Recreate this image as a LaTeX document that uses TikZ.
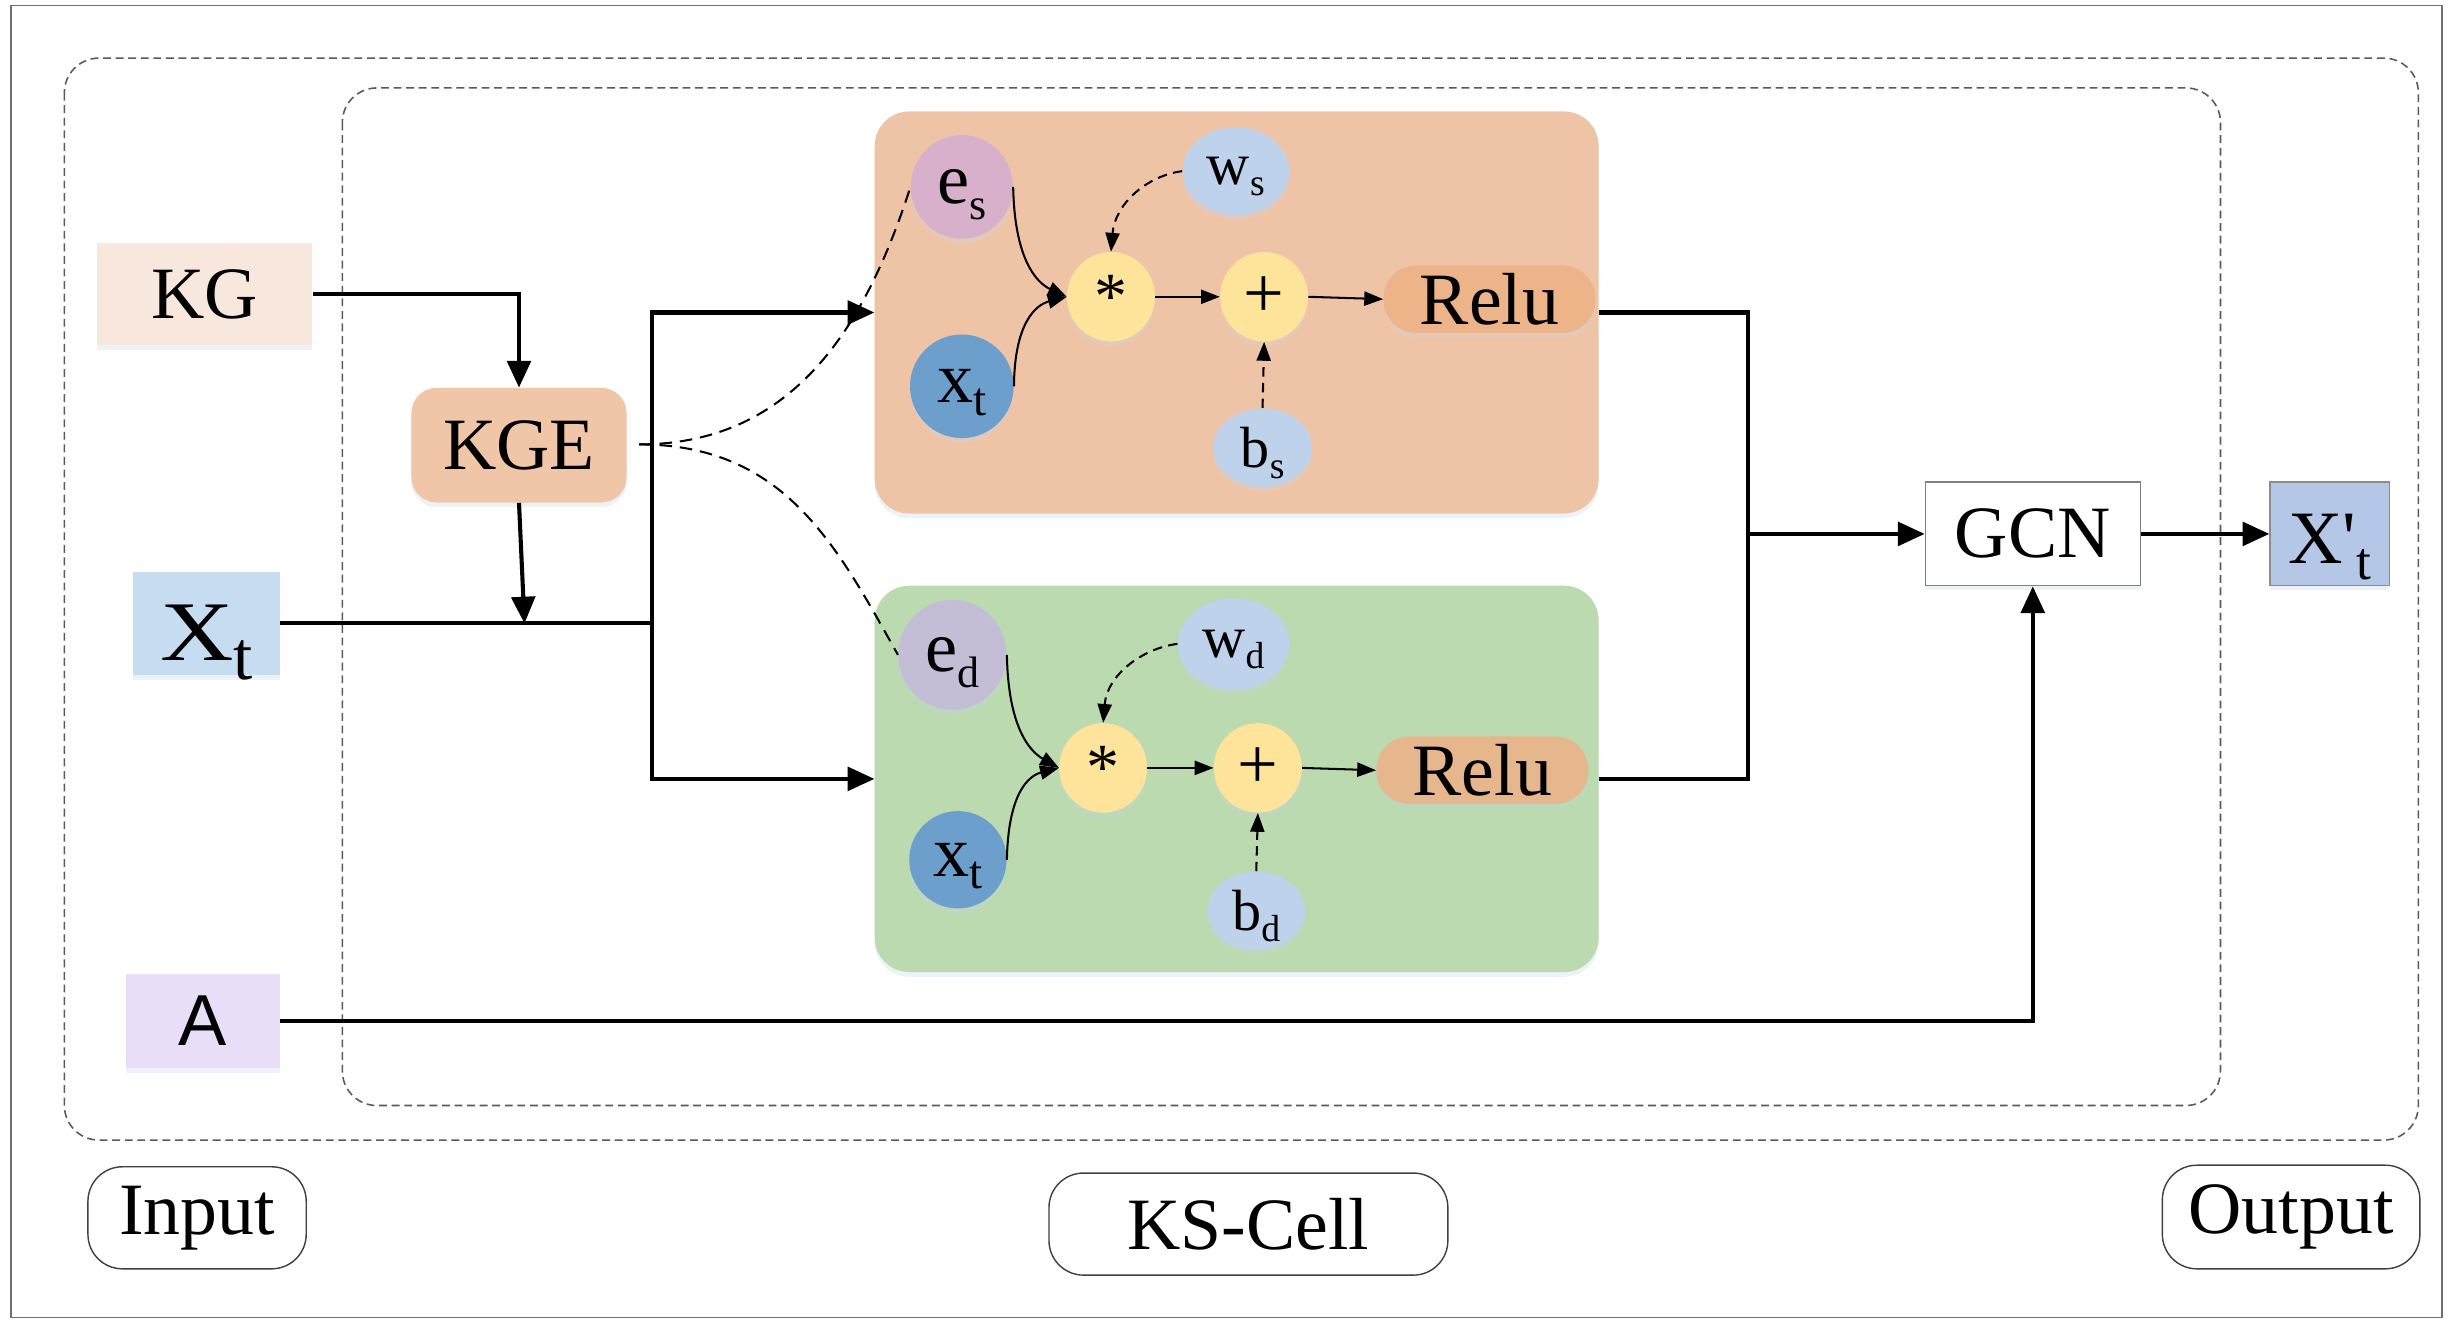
\documentclass[tikz,border=0pt]{standalone}
\usepackage{fontspec}
\setmainfont{Liberation Serif}[Ligatures=TeXOff]
\newfontfamily\sansA{Liberation Sans}
\usepackage{graphicx}
\usetikzlibrary{shapes.geometric,arrows.meta,shadows}
\newcommand\fs[1]{\fontsize{#1}{#1}\selectfont}
\newcommand\lsub[3]{\smash{\raisebox{-#1pt}{\fs{#2}#3}}}
\definecolor{kgc}{HTML}{F7E7DD}
\definecolor{kgec}{HTML}{F0C5A8}
\definecolor{xtc}{HTML}{C6DCF0}
\definecolor{ac}{HTML}{E8DEF8}
\definecolor{xpc}{HTML}{B4C7E7}
\definecolor{topc}{HTML}{EFC4A6}
\definecolor{botc}{HTML}{BBDAAF}
\definecolor{esc}{HTML}{D8B0CC}
\definecolor{edc}{HTML}{C3BED6}
\definecolor{xcc}{HTML}{6D9FCD}
\definecolor{wbc}{HTML}{BED2EB}
\definecolor{yc}{HTML}{FEE49B}
\definecolor{reluc}{HTML}{EDB48A}
\definecolor{relud}{HTML}{E6B78D}
\definecolor{shc}{HTML}{C5D5EA}
\definecolor{framec}{HTML}{707070}
\definecolor{dashc}{HTML}{5A5A5A}
\begin{document}
\begin{tikzpicture}[x=1pt,y=-1pt,
  shad/.style={drop shadow={shadow xshift=0pt,shadow yshift=-3pt,opacity=0.3,fill=shc}},
  sq/.style={rectangle,inner sep=0pt,font=\fs{47},shad},
  circ/.style={ellipse,inner sep=0pt,shad},
  relubox/.style={rectangle,rounded corners=21pt,minimum width=135,minimum height=43,inner sep=0pt,font=\fs{47},shad},
  lab/.style={rectangle,rounded corners=22pt,draw=black!75,line width=0.9pt,fill=white,inner sep=0pt,font=\fs{47}},
  panel/.style={rectangle,rounded corners=22pt,inner sep=0pt,shad},
  thk/.style={line width=2.6pt},
  arr/.style={line width=2.6pt,-{Triangle[length=17pt,width=15pt]}},
  tarr/.style={line width=1.3pt,-{Triangle[length=12pt,width=9pt]}},
  darr/.style={line width=1.3pt,dash pattern=on 6pt off 4pt,-{Triangle[length=12pt,width=9pt]}},
  dcurve/.style={line width=1.3pt,dash pattern=on 8pt off 5pt},
  dframe/.style={line width=1pt,draw=dashc,dash pattern=on 5pt off 3pt,rounded corners=22pt}
]
\useasboundingbox (0,0) rectangle (1564,854);
\fill[white] (0,0) rectangle (1564,854);
% outer frame and dashed frames
\draw[framec,line width=1.2pt] (7,3.5) rectangle (1555,839);
\draw[dframe] (41,37) rectangle (1540,726);
\draw[dframe] (218,56) rectangle (1414,704);

% panels
\node[panel,fill=topc,minimum width=461,minimum height=256] (top) at (787.5,199) {};
\node[panel,fill=botc,minimum width=461,minimum height=246] (bot) at (787.5,496) {};

% left inputs
\node[sq,fill=kgc,minimum width=137,minimum height=65] (KG) at (130.5,187.5) {KG};
\node[sq,fill=kgec,rounded corners=16pt,minimum width=137,minimum height=73] (KGE) at (330.5,283.5) {KGE};
\node[sq,fill=xtc,minimum width=93,minimum height=66,text height=47.5pt,text depth=0pt] (Xt) at (131.5,397) {\fs{54}\scalebox{1.2}[1]{X}\lsub{12}{44}{t}};
\node[sq,fill=ac,minimum width=98,minimum height=60,font=\sansA\fs{46}] (A) at (129,650) {A};

% right
\node[sq,fill=white,draw=black!50,line width=0.8pt,minimum width=137,minimum height=66] (GCN) at (1294.5,340) {GCN};
\node[sq,fill=xpc,draw=black!45,line width=0.8pt,minimum width=76,minimum height=66,text height=38pt,text depth=0pt] (Xp) at (1483.5,340) {\fs{48}X'\lsub{10}{34}{t}};

% top panel nodes
\node[circ,fill=esc,minimum width=65,minimum height=66,text height=21pt,text depth=0pt] (es) at (612.5,119) {\fs{46}e\lsub{10}{28}{s}};
\node[circ,fill=xcc,minimum width=66,minimum height=66,text height=21pt,text depth=0pt] (xs) at (612.5,246) {\fs{46}x\lsub{8}{30}{t}};
\node[circ,fill=yc,minimum width=56,minimum height=57] (ms) at (707.5,189) {\fs{42}*};
\node[circ,fill=yc,minimum width=56,minimum height=57] (as) at (805,189) {\fs{46}+};
\node[relubox,fill=reluc] (rs) at (948.5,190.5) {Relu};
\node[circ,fill=wbc,minimum width=68,minimum height=56,text height=17pt,text depth=0pt] (ws) at (787,109) {\fs{38}w\lsub{7}{24}{s}};
\node[circ,fill=wbc,minimum width=63,minimum height=50,text height=25pt,text depth=0pt] (bs) at (804,285) {\fs{37}b\lsub{7}{24}{s}};

% bottom panel nodes
\node[circ,fill=edc,minimum width=69,minimum height=70,text height=21pt,text depth=0pt] (ed) at (606.5,417) {\fs{46}e\lsub{10}{28}{d}};
\node[circ,fill=xcc,minimum width=62,minimum height=62,text height=21pt,text depth=0pt] (xd) at (610,547.5) {\fs{46}x\lsub{8}{30}{t}};
\node[circ,fill=yc,minimum width=56,minimum height=57] (md) at (702.5,489) {\fs{42}*};
\node[circ,fill=yc,minimum width=56,minimum height=57] (ad) at (801,489) {\fs{46}+};
\node[relubox,fill=relud] (rd) at (944,490.5) {Relu};
\node[circ,fill=wbc,minimum width=71,minimum height=58,text height=17pt,text depth=0pt] (wd) at (785.5,410) {\fs{38}w\lsub{7}{24}{d}};
\node[circ,fill=wbc,minimum width=62,minimum height=50,text height=25pt,text depth=0pt] (bd) at (800,580) {\fs{37}b\lsub{7}{24}{d}};

% bottom labels
\node[lab,minimum width=139,minimum height=65] (inp) at (125.5,775.5) {Input};
\node[lab,minimum width=254,minimum height=65] (ksc) at (795,779.5) {KS-Cell};
\node[lab,minimum width=164,minimum height=66] (outp) at (1459,775) {Output};

% main connectors
\draw[arr] (KG.east) -| (KGE.north);
\coordinate (j1) at (334,397);
\draw[arr] (KGE.south) -- (j1);
\coordinate (sp) at (415,397);
\draw[thk] (Xt.east) -- (sp);
\draw[arr] (sp) |- (top.west);
\draw[arr] (sp) |- (bot.west);
\coordinate (rj) at (1113,340);
\draw[thk] (top.east) -| (rj);
\draw[thk] (bot.east) -| (rj);
\draw[arr] (rj) -- (GCN.west);
\draw[arr] (GCN.east) -- (Xp.west);
\draw[arr] (A.east) -| (GCN.south);

% dashed from KGE
\coordinate (kgo) at (407,283);
\draw[dcurve] (kgo) .. controls (507,283) and (552,205) .. (es.west);
\draw[dcurve] (kgo) .. controls (500,283) and (533,348) .. (ed.west);

% top panel connectors
\draw[tarr] (es.east) .. controls (646,165) and (660,180) .. (ms.west);
\draw[tarr] (xs.east) .. controls (646,205) and (660,194) .. (ms.west);
\draw[tarr] (ms.east) -- (as.west);
\draw[tarr] (as.east) -- (rs.west);
\draw[darr] (ws.west) .. controls (730,112) and (710,130) .. (ms.north);
\draw[darr] (bs.north) -- (as.south);

% bottom panel connectors
\draw[tarr] (ed.east) .. controls (642,462) and (655,478) .. (md.west);
\draw[tarr] (xd.east) .. controls (642,505) and (655,494) .. (md.west);
\draw[tarr] (md.east) -- (ad.west);
\draw[tarr] (ad.east) -- (rd.west);
\draw[darr] (wd.west) .. controls (727,413) and (705,430) .. (md.north);
\draw[darr] (bd.north) -- (ad.south);
\end{tikzpicture}
\end{document}
